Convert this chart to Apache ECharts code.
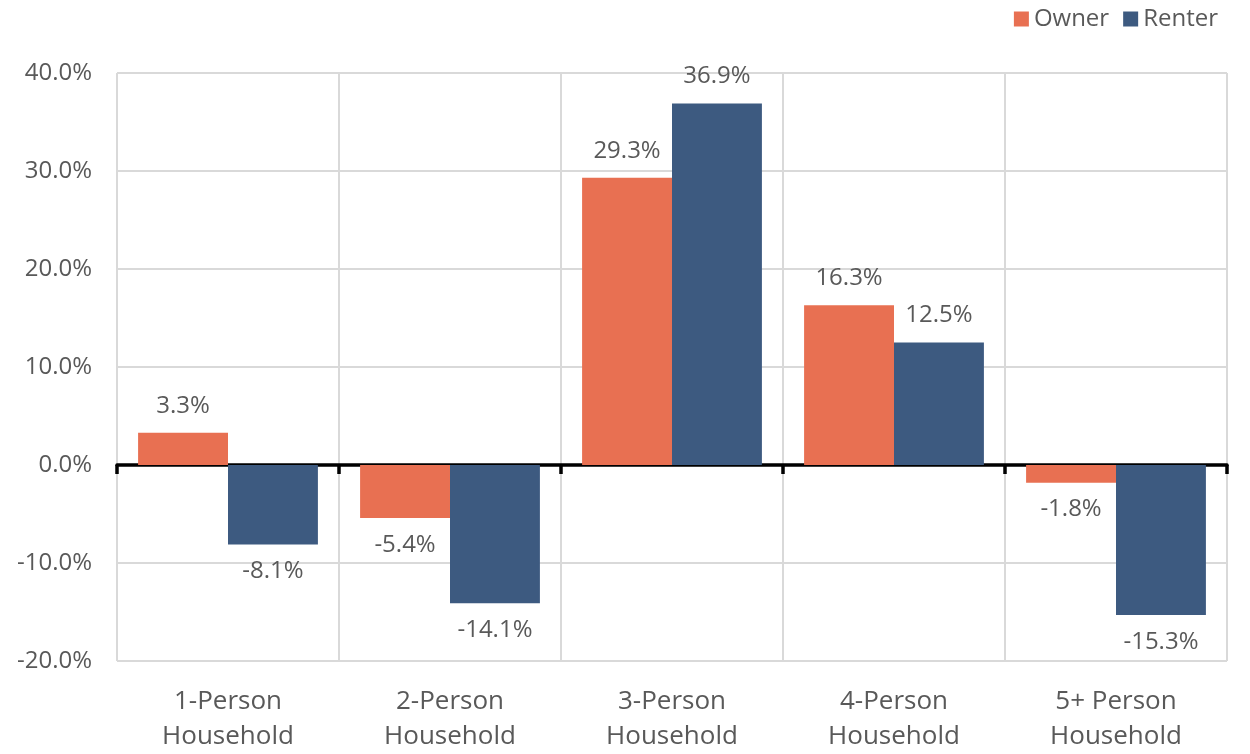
<!DOCTYPE html>
<html>
<head>
<meta charset="utf-8">
<script src="https://cdn.jsdelivr.net/npm/echarts@6/dist/echarts.min.js"></script>
<style>
html,body{margin:0;padding:0;background:#fff;}
#chart{width:1250px;height:754px;}
</style>
</head>
<body>
<div id="chart"></div>
<script>
var categories = ['1-Person\nHousehold', '2-Person\nHousehold', '3-Person\nHousehold', '4-Person\nHousehold', '5+ Person\nHousehold'];
var ownerValues = [3.3, -5.4, 29.3, 16.3, -1.8];
var renterValues = [-8.1, -14.1, 36.9, 12.5, -15.3];
var seriesNames = ['Owner', 'Renter'];

var FONT = '"Open Sans", "Noto Sans", sans-serif';
var TXT = '#595959';

function withLabelPos(values) {
  return values.map(function (v) {
    return { value: v, label: { position: v >= 0 ? 'top' : 'bottom' } };
  });
}

var chart = echarts.init(document.getElementById('chart'));
chart.setOption({
  animation: false,
  textStyle: { fontFamily: FONT },
  legend: {
    right: 27, top: 2,
    itemWidth: 15, itemHeight: 15, itemGap: 14,
    icon: 'rect',
    textStyle: { fontFamily: FONT, fontSize: 24, color: TXT },
    data: seriesNames
  },
  grid: { left: 117, width: 1110, top: 73, height: 592, containLabel: false },
  xAxis: [
    {
      type: 'category', data: categories, position: 'bottom',
      axisLine: { show: false, onZero: false },
      axisTick: { show: false },
      splitLine: { show: true, lineStyle: { color: '#d9d9d9', width: 2 } },
      axisLabel: { fontFamily: FONT, fontSize: 26, color: TXT, lineHeight: 35, margin: 23, interval: 0 }
    },
    {
      type: 'category', data: categories, position: 'bottom',
      axisLine: { show: true, onZero: true, lineStyle: { color: '#000', width: 3.5 } },
      axisTick: { show: true, length: 9, lineStyle: { color: '#000', width: 3.5 } },
      axisLabel: { show: false },
      splitLine: { show: false }
    }
  ],
  yAxis: {
    type: 'value', min: -20, max: 40, interval: 10,
    axisLine: { show: false }, axisTick: { show: false },
    splitLine: { lineStyle: { color: '#d9d9d9', width: 2 } },
    axisLabel: {
      fontFamily: FONT, fontSize: 24, color: TXT, margin: 25,
      formatter: function (v) { return v.toFixed(1) + '%'; }
    }
  },
  series: [
    {
      name: seriesNames[0], type: 'bar', xAxisIndex: 0,
      data: withLabelPos(ownerValues),
      itemStyle: { color: '#E87052' },
      barGap: '0%', barCategoryGap: '19%',
      label: { show: true, fontFamily: FONT, fontSize: 24, color: TXT, distance: 15,
        formatter: function (p) { return p.value.toFixed(1) + '%'; } }
    },
    {
      name: seriesNames[1], type: 'bar', xAxisIndex: 0,
      data: withLabelPos(renterValues),
      itemStyle: { color: '#3D5A80' },
      barGap: '0%', barCategoryGap: '19%',
      label: { show: true, fontFamily: FONT, fontSize: 24, color: TXT, distance: 15,
        formatter: function (p) { return p.value.toFixed(1) + '%'; } }
    }
  ]
});
</script>
</body>
</html>
